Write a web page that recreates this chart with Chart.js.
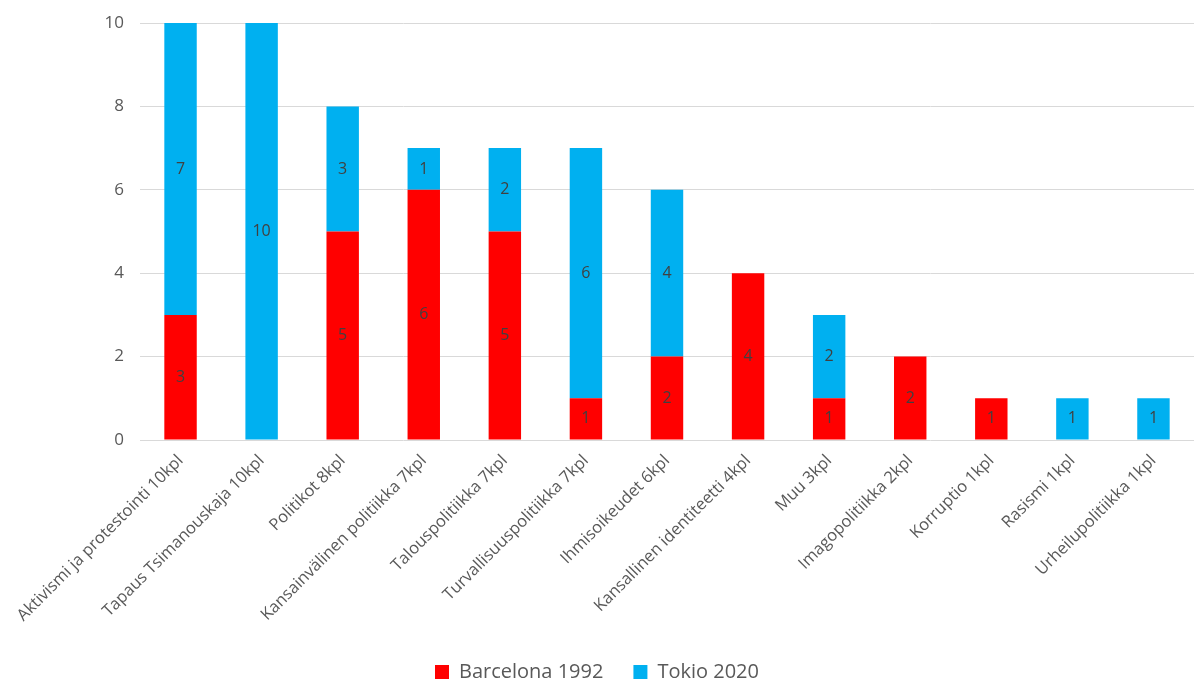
<!DOCTYPE html>
<html>
<head>
<meta charset="utf-8">
<script src="https://cdn.jsdelivr.net/npm/chart.js@4"></script>
<style>
body { margin: 0; background: #fff; }
canvas { display: block; }
</style>
</head>
<body>
<canvas id="grafica" width="1194" height="682"></canvas>
<script>
// DATOS
const kategoriat = [
  'Aktivismi ja protestointi 10kpl',
  'Tapaus Tsimanouskaja 10kpl',
  'Politikot 8kpl',
  'Kansainvälinen politiikka 7kpl',
  'Talouspolitiikka 7kpl',
  'Turvallisuuspolitiikka 7kpl',
  'Ihmisoikeudet 6kpl',
  'Kansallinen identiteetti 4kpl',
  'Muu 3kpl',
  'Imagopolitiikka 2kpl',
  'Korruptio 1kpl',
  'Rasismi 1kpl',
  'Urheilupolitiikka 1kpl'
];
const barcelona = [3, 0, 5, 6, 5, 1, 2, 4, 1, 2, 1, 0, 0];
const tokio = [7, 10, 3, 1, 2, 6, 4, 0, 2, 0, 0, 1, 1];
const yTicks = [0, 2, 4, 6, 8, 10];

const harmaa = '#595959';
const fontti = '"Open Sans", Lato, sans-serif';

// ARVOT PALKKIEN SISÄÄN
const arvot = {
  id: 'arvot',
  afterDatasetsDraw(chart) {
    const c = chart.ctx;
    c.save();
    c.font = '16px ' + fontti;
    c.fillStyle = '#404040';
    c.textAlign = 'center';
    c.textBaseline = 'middle';
    chart.data.datasets.forEach((ds, i) => {
      chart.getDatasetMeta(i).data.forEach((bar, j) => {
        const v = ds.data[j];
        if (!v) return;
        c.fillText(String(v), bar.x, (bar.y + bar.base) / 2);
      });
    });
    c.restore();
  }
};

new Chart(document.getElementById('grafica'), {
  type: 'bar',
  data: {
    labels: kategoriat,
    datasets: [
      { label: 'Barcelona 1992', data: barcelona, backgroundColor: '#FF0000' },
      { label: 'Tokio 2020', data: tokio, backgroundColor: '#00B0F0' }
    ]
  },
  options: {
    responsive: false,
    devicePixelRatio: 1,
    animation: false,
    layout: { padding: { top: 23, right: 0, left: 0, bottom: -10 } },
    datasets: { bar: { categoryPercentage: 1, barPercentage: 0.4 } },
    plugins: {
      tooltip: { enabled: false },
      legend: {
        position: 'bottom',
        labels: {
          boxWidth: 14, boxHeight: 14, padding: 30,
          color: harmaa,
          font: { family: fontti, size: 20 }
        }
      }
    },
    scales: {
      x: {
        stacked: true,
        grid: { display: false },
        border: { display: false },
        ticks: {
          color: harmaa,
          font: { family: fontti, size: 16.5 },
          minRotation: 45, maxRotation: 45,
          autoSkip: false
        },
        afterFit: (s) => { s.height = 192; }
      },
      y: {
        stacked: true,
        min: 0, max: 10,
        afterBuildTicks: (s) => { s.ticks = yTicks.map(v => ({ value: v })); },
        grid: { color: '#d9d9d9', drawTicks: false },
        border: { display: false },
        ticks: {
          color: harmaa,
          padding: 16,
          font: { family: fontti, size: 17 }
        },
        afterFit: (s) => { s.width = 140; s.paddingTop = 0; }
      }
    }
  },
  plugins: [arvot]
});
</script>
</body>
</html>
